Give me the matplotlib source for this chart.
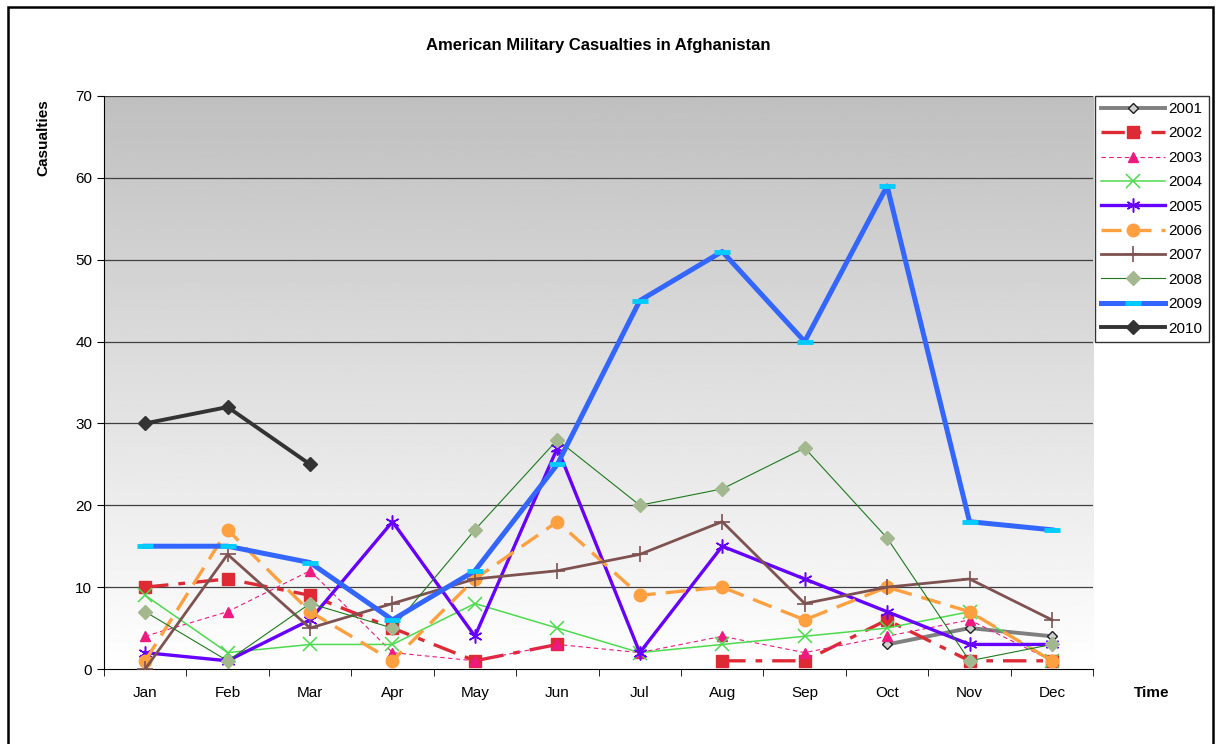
import matplotlib.pyplot as plt
import numpy as np
from matplotlib.patches import Rectangle

plt.rcParams['font.family'] = ['Liberation Sans', 'DejaVu Sans']

months = ["Jan", "Feb", "Mar", "Apr", "May", "Jun", "Jul", "Aug", "Sep", "Oct", "Nov", "Dec"]
nan = np.nan

y2001 = [nan, nan, nan, nan, nan, nan, nan, nan, nan, 3, 5, 4]
y2002 = [10, 11, 9, 5, 1, 3, nan, 1, 1, 6, 1, 1]
y2003 = [4, 7, 12, 2, 1, 3, 2, 4, 2, 4, 6, 1]
y2004 = [9, 2, 3, 3, 8, 5, 2, 3, 4, 5, 7, 1]
y2005 = [2, 1, 6, 18, 4, 27, 2, 15, 11, 7, 3, 3]
y2006 = [1, 17, 7, 1, 11, 18, 9, 10, 6, 10, 7, 1]
y2007 = [0, 14, 5, 8, 11, 12, 14, 18, 8, 10, 11, 6]
y2008 = [7, 1, 8, 5, 17, 28, 20, 22, 27, 16, 1, 3]
y2009 = [15, 15, 13, 6, 12, 25, 45, 51, 40, 59, 18, 17]
y2010 = [30, 32, 25, nan, nan, nan, nan, nan, nan, nan, nan, nan]

x = np.arange(len(months))

fig = plt.figure(figsize=(12.16, 7.44), dpi=100)
ax = fig.add_axes([0.0855, 0.1008, 0.8135, 0.7702])

# gray-to-white gradient background
grad = np.linspace(1.0, 0.75, 256).reshape(-1, 1)
ax.imshow(grad, extent=[0, 1, 0, 1], transform=ax.transAxes, aspect='auto',
          cmap='gray', vmin=0, vmax=1, origin='lower', zorder=0)

for v in range(10, 71, 10):
    ax.axhline(v, color='#404040', lw=0.9, zorder=1)

ax.plot(x, y2001, color='#808080', lw=2.8, marker='D', ms=5, mfc='#d0d0d0', mec='#202020', mew=1, label='2001', zorder=3)
ax.plot(x, y2002, color='#dd2a34', lw=2.4, dashes=(7, 3, 2, 3), marker='s', ms=8, label='2002', zorder=3)
ax.plot(x, y2003, color='#ee1a80', lw=0.8, dashes=(4, 3), marker='^', ms=7, label='2003', zorder=3)
ax.plot(x, y2004, color='#4cdb4c', lw=1.1, marker='x', ms=10, mew=1.1, label='2004', zorder=3)
ax.plot(x, y2005, color='#6600ff', lw=2.4, marker=(6, 2, 0), ms=10, mew=1.1, label='2005', zorder=3)
ax.plot(x, y2006, color='#ffa040', lw=2.4, dashes=(6, 3), marker='o', ms=9, label='2006', zorder=3)
ax.plot(x, y2007, color='#7f5252', lw=2.0, marker='+', ms=12, mew=1.2, label='2007', zorder=3)
ax.plot(x, y2008, color='#1e7a1e', lw=0.8, marker='D', ms=7, mfc='#a3b88f', mec='#a3b88f', label='2008', zorder=3)
ax.plot(x, y2009, color='#3366ff', lw=3.6, marker='_', ms=12, mew=3.5, mec='#00ccff', label='2009', zorder=3)
ax.plot(x, y2010, color='#333333', lw=2.8, marker='D', ms=7, label='2010', zorder=4)

ax.set_xlim(-0.5, 11.5)
ax.set_ylim(0, 70)
ax.set_yticks(range(0, 71, 10))
ax.set_xticks(x)
ax.set_xticklabels(months)
ax.set_xticks(np.arange(-0.5, 12, 1), minor=True)
ax.tick_params(axis='x', which='major', length=0, pad=12, labelsize=11)
ax.tick_params(axis='x', which='minor', length=5, direction='out')
ax.tick_params(axis='y', length=5, direction='out', labelsize=11)
ax.spines['top'].set_visible(False)
ax.spines['right'].set_visible(False)

ax.set_title('American Military Casualties in Afghanistan', fontsize=12, fontweight='bold', pad=33)
ax.set_ylabel('Casualties', fontsize=11, fontweight='bold')
ax.yaxis.set_label_coords(-0.054, 0.928)
fig.text(0.947, 0.063, 'Time', fontsize=11, fontweight='bold', ha='center')

leg = ax.legend(loc='upper left', bbox_to_anchor=(1.002, 1.0), frameon=True, fancybox=False,
                edgecolor='black', fontsize=11, handlelength=4.2, borderaxespad=0,
                labelspacing=0.68, handletextpad=0.2, borderpad=0.4)
leg.get_frame().set_linewidth(1.0)

fig.patches.append(Rectangle((0.0066, -0.01), 0.991, 1.0, transform=fig.transFigure,
                             fill=False, edgecolor='black', lw=1.8))

fig.savefig('out.png', dpi=100)
